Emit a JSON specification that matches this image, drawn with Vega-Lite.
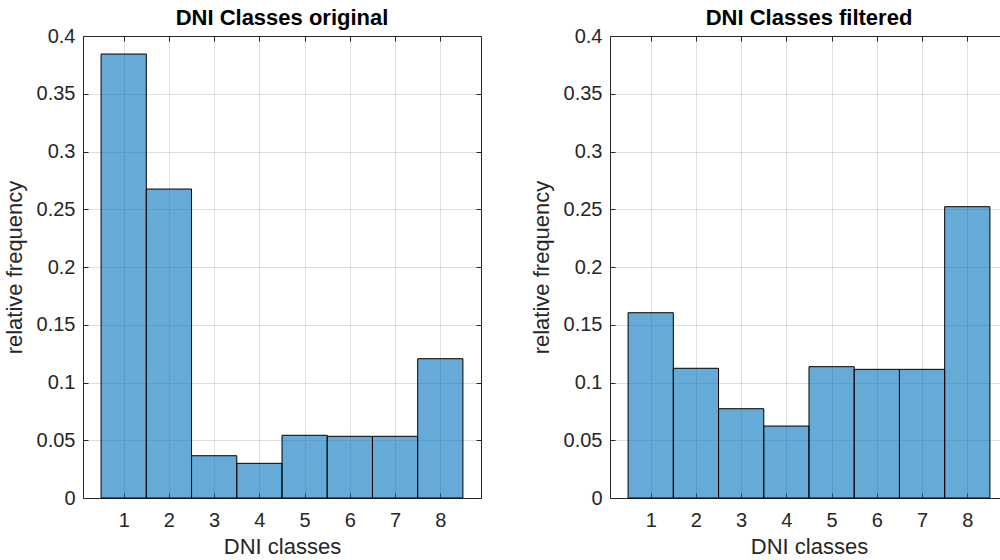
{
  "$schema": "https://vega.github.io/schema/vega-lite/v6.json",
  "padding": {"left": 2, "top": 6, "right": -7, "bottom": 0},
  "datasets": {
    "orig": [
      {"dni_class": 1, "bin_start": 0.5, "bin_end": 1.5, "rel_freq": 0.3844},
      {"dni_class": 2, "bin_start": 1.5, "bin_end": 2.5, "rel_freq": 0.2675},
      {"dni_class": 3, "bin_start": 2.5, "bin_end": 3.5, "rel_freq": 0.0366},
      {"dni_class": 4, "bin_start": 3.5, "bin_end": 4.5, "rel_freq": 0.0300},
      {"dni_class": 5, "bin_start": 4.5, "bin_end": 5.5, "rel_freq": 0.0543},
      {"dni_class": 6, "bin_start": 5.5, "bin_end": 6.5, "rel_freq": 0.0534},
      {"dni_class": 7, "bin_start": 6.5, "bin_end": 7.5, "rel_freq": 0.0534},
      {"dni_class": 8, "bin_start": 7.5, "bin_end": 8.5, "rel_freq": 0.1206}
    ],
    "filt": [
      {"dni_class": 1, "bin_start": 0.5, "bin_end": 1.5, "rel_freq": 0.1604},
      {"dni_class": 2, "bin_start": 1.5, "bin_end": 2.5, "rel_freq": 0.1123},
      {"dni_class": 3, "bin_start": 2.5, "bin_end": 3.5, "rel_freq": 0.0773},
      {"dni_class": 4, "bin_start": 3.5, "bin_end": 4.5, "rel_freq": 0.0623},
      {"dni_class": 5, "bin_start": 4.5, "bin_end": 5.5, "rel_freq": 0.1137},
      {"dni_class": 6, "bin_start": 5.5, "bin_end": 6.5, "rel_freq": 0.1114},
      {"dni_class": 7, "bin_start": 6.5, "bin_end": 7.5, "rel_freq": 0.1114},
      {"dni_class": 8, "bin_start": 7.5, "bin_end": 8.5, "rel_freq": 0.2522}
    ]
  },
  "spacing": 47,
  "hconcat": [
    {
      "title": "DNI Classes original",
      "width": 398,
      "height": 462,
      "data": {"name": "orig"},
      "layer": [
        {
          "mark": {"type": "bar", "fill": "#0072BD", "fillOpacity": 0.6, "stroke": "#000000", "strokeWidth": 1},
          "encoding": {
            "x": {"field": "bin_start", "type": "quantitative",
                  "scale": {"domain": [0.1, 8.9], "nice": false, "zero": false},
                  "axis": {"values": [1, 2, 3, 4, 5, 6, 7, 8], "title": "DNI classes", "grid": true, "labelPadding": 17, "titlePadding": 6}},
            "x2": {"field": "bin_end"},
            "y": {"field": "rel_freq", "type": "quantitative",
                  "scale": {"domain": [0, 0.4], "nice": false},
                  "axis": {"values": [0, 0.05, 0.1, 0.15, 0.2, 0.25, 0.3, 0.35, 0.4], "format": "~g", "title": "relative frequency", "grid": true, "labelPadding": 13, "titlePadding": 10}},
            "y2": {"datum": 0}
          }
        },
        {
          "mark": {"type": "bar", "opacity": 0},
          "encoding": {
            "x": {"field": "bin_start", "type": "quantitative",
                  "axis": {"orient": "top", "values": [1, 2, 3, 4, 5, 6, 7, 8], "labels": false, "title": null, "grid": false}},
            "x2": {"field": "bin_end"},
            "y": {"field": "rel_freq", "type": "quantitative",
                  "axis": {"orient": "right", "values": [0, 0.05, 0.1, 0.15, 0.2, 0.25, 0.3, 0.35, 0.4], "labels": false, "title": null, "grid": false}},
            "y2": {"datum": 0}
          }
        }
      ],
      "resolve": {"axis": {"x": "independent", "y": "independent"}}
    },
    {
      "title": "DNI Classes filtered",
      "width": 398,
      "height": 462,
      "data": {"name": "filt"},
      "layer": [
        {
          "mark": {"type": "bar", "fill": "#0072BD", "fillOpacity": 0.6, "stroke": "#000000", "strokeWidth": 1},
          "encoding": {
            "x": {"field": "bin_start", "type": "quantitative",
                  "scale": {"domain": [0.1, 8.9], "nice": false, "zero": false},
                  "axis": {"values": [1, 2, 3, 4, 5, 6, 7, 8], "title": "DNI classes", "grid": true, "labelPadding": 17, "titlePadding": 6}},
            "x2": {"field": "bin_end"},
            "y": {"field": "rel_freq", "type": "quantitative",
                  "scale": {"domain": [0, 0.4], "nice": false},
                  "axis": {"values": [0, 0.05, 0.1, 0.15, 0.2, 0.25, 0.3, 0.35, 0.4], "format": "~g", "title": "relative frequency", "grid": true, "labelPadding": 13, "titlePadding": 10}},
            "y2": {"datum": 0}
          }
        },
        {
          "mark": {"type": "bar", "opacity": 0},
          "encoding": {
            "x": {"field": "bin_start", "type": "quantitative",
                  "axis": {"orient": "top", "values": [1, 2, 3, 4, 5, 6, 7, 8], "labels": false, "title": null, "grid": false}},
            "x2": {"field": "bin_end"},
            "y": {"field": "rel_freq", "type": "quantitative",
                  "axis": {"orient": "right", "values": [0, 0.05, 0.1, 0.15, 0.2, 0.25, 0.3, 0.35, 0.4], "labels": false, "title": null, "grid": false}},
            "y2": {"datum": 0}
          }
        }
      ],
      "resolve": {"axis": {"x": "independent", "y": "independent"}}
    }
  ],
  "config": {
    "font": "Liberation Sans",
    "view": {"stroke": "#262626", "strokeWidth": 1},
    "axis": {
      "domain": false,
      "tickColor": "#262626",
      "tickSize": -5,
      "labelColor": "#262626",
      "labelFontSize": 20,
      "labelFont": "Liberation Sans",
      "titleColor": "#262626",
      "titleFontSize": 22,
      "titleFontWeight": "normal",
      "titleFont": "Liberation Sans",
      "gridColor": "#262626",
      "gridOpacity": 0.15
    },
    "title": {"fontSize": 22, "fontWeight": "bold", "color": "#000000", "font": "Liberation Sans", "offset": -4}
  }
}
